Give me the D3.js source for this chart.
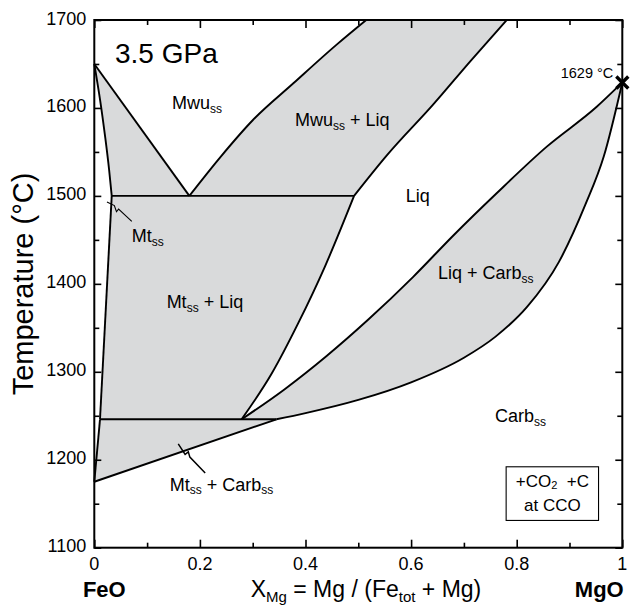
<!DOCTYPE html>
<html>
<head>
<meta charset="utf-8">
<script src="https://cdn.jsdelivr.net/npm/d3@7"></script>
<style>
  html, body { margin: 0; padding: 0; background: #fff; }
  svg { display: block; font-family: "Liberation Sans", Arial, Helvetica, sans-serif; }
</style>
</head>
<body>
<svg id="chart" width="630" height="610"></svg>
<script>
// FeO–MgO–CO2 phase relations at 3.5 GPa (T in °C vs X_Mg)

// Axis ticks
const xMajorTicks = [0, 0.2, 0.4, 0.6, 0.8, 1];
const xMinorTicks = [0.1, 0.3, 0.5, 0.7, 0.9];
const yMajorTicks = [1100, 1200, 1300, 1400, 1500, 1600, 1700];
const yMinorTicks = [1150, 1250, 1350, 1450, 1550, 1650];

// Phase boundaries as [X_Mg, T] pairs
const mwuSolidus = [[0, 1650], [0.18, 1500]];
const mtUpper = [[0, 1650], [0.011, 1609], [0.021, 1565], [0.028, 1530], [0.033, 1500]];
const mtLower = [[0.033, 1500], [0.0108, 1246]];
const mtBase = [[0.0108, 1246], [0, 1175]];
const eutectic1500 = [[0.033, 1500], [0.492, 1500]];
const mwuLiqLeft = [[0.18, 1500], [0.24, 1545], [0.30, 1586], [0.377, 1628], [0.459, 1672], [0.515, 1700]];
const mwuLiqRight = [[0.492, 1500], [0.554, 1546], [0.642, 1604], [0.712, 1653], [0.781, 1700]];
const mtLiquidus = [[0.492, 1500], [0.437, 1420], [0.386, 1355], [0.336, 1298], [0.279, 1246]];
const peritectic1246 = [[0.0108, 1246], [0.345, 1246]];
const mtCarbLine = [[0, 1175], [0.345, 1246]];
const carbSolidus = [[0.345, 1246], [0.40, 1253], [0.50, 1268], [0.60, 1288], [0.70, 1316], [0.76, 1340],
                     [0.82, 1374], [0.88, 1425], [0.93, 1490], [0.965, 1545], [1, 1629]];
const carbLiquidus = [[0.279, 1246], [0.36, 1280], [0.44, 1318], [0.52, 1360], [0.604, 1408], [0.68, 1455],
                      [0.762, 1503], [0.857, 1556], [0.951, 1601], [1, 1629]];
const mgcMelting = [1, 1629];

const svg = d3.select("#chart");
const W = 630, H = 610;
const margin = { left: 94.3, right: W - 622.3, top: 20, bottom: H - 547.7 };

const x = d3.scaleLinear().domain([0, 1]).range([margin.left, W - margin.right]);
const y = d3.scaleLinear().domain([1100, 1700]).range([H - margin.bottom, margin.top]);

const lineGen = curve => d3.line().x(d => x(d[0])).y(d => y(d[1])).curve(curve);
const LIN = d3.curveLinear, MX = d3.curveMonotoneX, MY = d3.curveMonotoneY;

const rev = a => a.slice().reverse();
// Join several boundary pieces into one closed area
function area(pieces) {
  return pieces.map(([pts, c], i) => {
    const s = lineGen(c)(pts);
    return i === 0 ? s : "L" + s.slice(1);
  }).join("") + "Z";
}

const FILL = "#d9dadb";
const fields = svg.append("g");

// Mwu_ss + Mt_ss wedge
fields.append("path").attr("d", area([[mwuSolidus, LIN], [[[0.18, 1500], [0.033, 1500]], LIN], [rev(mtUpper), MY]]));
// Mwu_ss + Liq
fields.append("path").attr("d", area([[mwuLiqLeft, MX], [[[0.515, 1700], [0.781, 1700]], LIN], [rev(mwuLiqRight), MX]]));
// Mt_ss + Liq
fields.append("path").attr("d", area([[eutectic1500, LIN], [mtLiquidus, MX], [[[0.279, 1246], [0.0108, 1246]], LIN], [rev(mtLower), LIN]]));
// Mt_ss + Carb_ss
fields.append("path").attr("d", area([[peritectic1246, LIN], [rev(mtCarbLine), LIN], [rev(mtBase), LIN]]));
// Liq + Carb_ss
fields.append("path").attr("d", area([[carbLiquidus, MX], [rev(carbSolidus), MX], [[[0.345, 1246], [0.279, 1246]], LIN]]));
fields.selectAll("path").attr("fill", FILL).attr("stroke", "none");

// Boundary lines
const lines = svg.append("g").attr("fill", "none").attr("stroke", "#000")
  .attr("stroke-width", 1.9).attr("stroke-linejoin", "round");
[[mwuSolidus, LIN], [mtUpper, MY], [mtLower, LIN], [mtBase, LIN], [eutectic1500, LIN],
 [mwuLiqLeft, MX], [mwuLiqRight, MX], [mtLiquidus, MX], [peritectic1246, LIN], [mtCarbLine, LIN],
 [carbSolidus, MX], [carbLiquidus, MX]].forEach(([b, c]) => {
  lines.append("path").attr("d", lineGen(c)(b));
});

// Axes with inward ticks on all four sides
const x0 = x(0), x1 = x(1), yB = y(1100), yT = y(1700);
function tickAxis(axis, transform, vals, size) {
  const g = svg.append("g").attr("transform", transform)
    .call(axis.tickValues(vals).tickSize(size).tickFormat(""));
  g.select(".domain").remove();
  g.selectAll(".tick line").attr("stroke", "#000").attr("stroke-width", 1.6);
  return g;
}
tickAxis(d3.axisBottom(x), `translate(0,${yB})`, xMajorTicks, -8);
tickAxis(d3.axisBottom(x), `translate(0,${yB})`, xMinorTicks, -5);
tickAxis(d3.axisTop(x), `translate(0,${yT})`, xMajorTicks, -8);
tickAxis(d3.axisTop(x), `translate(0,${yT})`, xMinorTicks, -5);
tickAxis(d3.axisLeft(y), `translate(${x0},0)`, yMajorTicks, -7);
tickAxis(d3.axisLeft(y), `translate(${x0},0)`, yMinorTicks, -5);
tickAxis(d3.axisRight(y), `translate(${x1},0)`, yMajorTicks, -7);
tickAxis(d3.axisRight(y), `translate(${x1},0)`, yMinorTicks, -5);

svg.append("rect").attr("x", x0).attr("y", yT).attr("width", x1 - x0).attr("height", yB - yT)
  .attr("fill", "none").attr("stroke", "#000").attr("stroke-width", 2);

// Tick labels
svg.append("g").selectAll("text").data(xMajorTicks).join("text")
  .attr("x", d => x(d)).attr("y", yB + 22).attr("text-anchor", "middle")
  .attr("font-size", 18).text(d => String(d));
svg.append("g").selectAll("text").data(yMajorTicks).join("text")
  .attr("x", x0 - 8).attr("y", d => y(d) + 4.5).attr("text-anchor", "end")
  .attr("font-size", 18).text(d => String(d));

// Endmember labels
svg.append("text").attr("x", x(0) + 10).attr("y", 597).attr("text-anchor", "middle")
  .attr("font-size", 22).attr("font-weight", "bold").text("FeO");
svg.append("text").attr("x", x(1) - 23).attr("y", 597).attr("text-anchor", "middle")
  .attr("font-size", 22).attr("font-weight", "bold").text("MgO");

// Text with subscript parts: parts = [[text, isSub], ...]
function rich(g, px, py, parts, size, subSize, anchor) {
  const t = g.append("text").attr("x", px).attr("y", py).attr("font-size", size)
    .attr("text-anchor", anchor || "start");
  let shifted = false;
  const drop = size * 0.22;
  parts.forEach(([s, sub]) => {
    const sp = t.append("tspan").text(s);
    if (sub) {
      sp.attr("font-size", subSize);
      if (!shifted) { sp.attr("dy", drop); shifted = true; }
    } else if (shifted) { sp.attr("dy", -drop); shifted = false; }
  });
  return t;
}

// Axis titles
rich(svg, 366, 597, [["X", false], ["Mg", true], [" = Mg / (Fe", false], ["tot", true], [" + Mg)", false]], 23, 15, "middle");
svg.append("text").attr("transform", "rotate(-90)").attr("x", -284).attr("y", 33)
  .attr("text-anchor", "middle").attr("font-size", 29).text("Temperature (°C)");

// Field labels
const lab = svg.append("g").attr("fill", "#000");
lab.append("text").attr("x", 115).attr("y", 63).attr("font-size", 28).text("3.5 GPa");
const FS = 18, SS = 12;
rich(lab, x(0.147), y(1599), [["Mwu", false], ["ss", true]], FS, SS);
rich(lab, x(0.38), y(1579), [["Mwu", false], ["ss", true], [" + Liq", false]], FS, SS);
rich(lab, x(0.59), y(1493), [["Liq", false]], FS, SS);
rich(lab, x(0.651), y(1405), [["Liq + Carb", false], ["ss", true]], FS, SS);
rich(lab, x(0.759), y(1243), [["Carb", false], ["ss", true]], FS, SS);
rich(lab, x(0.137), y(1372), [["Mt", false], ["ss", true], [" + Liq", false]], FS, SS);
rich(lab, x(0.071), y(1448), [["Mt", false], ["ss", true]], FS, SS);
rich(lab, x(0.143), y(1165), [["Mt", false], ["ss", true], [" + Carb", false], ["ss", true]], FS, SS);

// Leader lines for the narrow fields
const leaderMt = [[0.071, 1471], [0.046, 1485], [0.042, 1482], [0.038, 1489], [0.024, 1493]];
const leaderMtCarb = [[0.21, 1185], [0.181, 1203], [0.178, 1209], [0.172, 1206], [0.159, 1218]];
const lead = svg.append("g").attr("fill", "none").attr("stroke", "#000");
lead.append("path").attr("d", lineGen(LIN)(leaderMt)).attr("stroke-width", 1.1);
lead.append("path").attr("d", lineGen(LIN)(leaderMtCarb)).attr("stroke-width", 1.5);

// Melting point of the MgCO3 endmember
const mx = x(mgcMelting[0]), my = y(mgcMelting[1]);
svg.append("path").attr("d", `M${mx - 6},${my - 6}L${mx + 6},${my + 6}M${mx - 6},${my + 6}L${mx + 6},${my - 6}`)
  .attr("stroke", "#000").attr("stroke-width", 3.4).attr("fill", "none");
svg.append("text").attr("x", mx - 9).attr("y", my - 4).attr("text-anchor", "end")
  .attr("font-size", 14.5).text("1629 °C");

// Buffer note
const bx0 = x(0.78), bx1 = x(0.955), by0 = y(1192), by1 = y(1131);
svg.append("rect").attr("x", bx0).attr("y", by0).attr("width", bx1 - bx0).attr("height", by1 - by0)
  .attr("fill", "#fff").attr("stroke", "#000").attr("stroke-width", 1.1);
const bc = (bx0 + bx1) / 2;
const note1 = svg.append("text").attr("x", bc).attr("y", by0 + 20).attr("text-anchor", "middle")
  .attr("font-size", 17).attr("xml:space", "preserve");
note1.append("tspan").text("+CO");
note1.append("tspan").text("2").attr("font-size", 11).attr("dy", 2);
note1.append("tspan").text("  +C").attr("dy", -2);
svg.append("text").attr("x", bc).attr("y", by0 + 44.5).attr("text-anchor", "middle").attr("font-size", 17).text("at CCO");
</script>
</body>
</html>
